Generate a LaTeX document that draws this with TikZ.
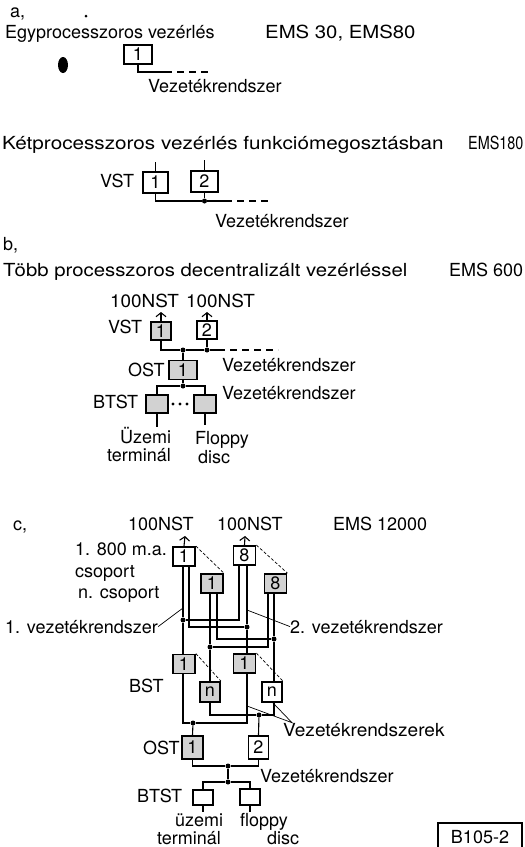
\documentclass[tikz,border=0pt]{standalone}
\usepackage{fontspec}
\usepackage{graphicx}
\setmainfont{TeX Gyre Heros}
\usetikzlibrary{arrows.meta}

% vizszintes nyujtas a szeles betukhoz
\newcommand{\hstr}[2]{\scalebox{#1}[1]{#2}}

\tikzset{
  txt/.style={anchor=base west, inner sep=0pt},
  blk/.style={draw, line width=1.8pt, inner sep=0pt, minimum width=22pt, minimum height=19pt, font=\fontsize{18}{18}\selectfont},
  stip/.style={fill=gray!35},
  wire/.style={line width=1.1pt},
  brk/.style={wire, dash pattern=on 7pt off 5pt},
  jn/.style={circle, fill, inner sep=0pt, minimum size=5pt},
  lead/.style={line width=0.7pt},
  stack/.style={line width=0.7pt, dash pattern=on 3pt off 2pt},
  upar/.style={wire, -{Straight Barb[length=4pt,width=10pt]}}
}

\begin{document}
\begin{tikzpicture}[x=1pt, y=-1pt, font=\fontsize{18}{20}\selectfont]
\useasboundingbox (0,0) rectangle (525,847);

% a, egy processzor
\node[txt] (la) at (10,17) {a,};
\node[txt] (t1) at (5,38) {Egyprocesszoros vezérlés};
\node[txt] (e1) at (265,38) {\hstr{1.13}{EMS 30, EMS80}};
\fill (63,65) ellipse (5 and 8);
\fill (86,16) circle (1.5);
\node[blk, minimum width=28pt] (a1) at (138,54.5) {1};
\coordinate (a1s) at (165,72);
\coordinate (a1e) at (208,72);
\draw[wire] (a1.south) |- (a1s);
\draw[brk] (a1s) -- (a1e);
\node[txt] (v1) at (148,92) {Vezetékrendszer};

% ket processzor, funkciomegosztas
\node[txt] (t2) at (2,149) {\hstr{1.15}{Kétprocesszoros vezérlés funkciómegosztásban}};
\node[txt] (e2) at (468,149) {\hstr{0.8}{EMS180}};
\node[txt] (vst1) at (100,187) {VST};
\node[blk, minimum width=25pt, minimum height=21pt] (k1) at (155.5,182.5) {1};
\node[blk, minimum width=27pt, minimum height=21pt] (k2) at (204.5,181.5) {2};
\coordinate (k1t) at (155.5,162);
\coordinate (k2t) at (204.5,160);
\draw[wire] (k1.north) -- (k1t);
\draw[wire] (k2.north) -- (k2t);
\node[jn] (j1) at (204.5,201) {};
\coordinate (k2s) at (225,201);
\coordinate (k2e) at (268,201);
\draw[wire] (k1.south) |- (j1) -- (k2s);
\draw[wire] (k2.south) -- (j1);
\draw[brk] (k2s) -- (k2e);
\node[txt] (v2) at (215,227) {Vezetékrendszer};

% b, decentralizalt
\node[txt] (lb) at (3,250) {b,};
\node[txt] (t3) at (3,276) {\hstr{1.13}{Több processzoros decentralizált vezérléssel}};
\node[txt] (e3) at (449,276) {EMS 600};
\node[txt] (n1) at (110,307) {\hstr{1.05}{100NST}};
\node[txt] (n2) at (186,307) {\hstr{1.05}{100NST}};
\node[txt] (vst2) at (108,333) {VST};
\node[blk, stip, minimum width=20pt, minimum height=18pt] (vb1) at (161,331) {1};
\node[blk, minimum width=20pt, minimum height=18pt] (vb2) at (207,330) {2};
\coordinate (p1) at (161,312);
\coordinate (p2) at (207,312);
\draw[upar] (vb1.north) -- (p1);
\draw[upar] (vb2.north) -- (p2);
\node[jn] (j2) at (183,350) {};
\node[jn] (j3) at (207,350) {};
\coordinate (b3s) at (218,350);
\coordinate (b3e) at (278,350);
\draw[wire] (vb1.south) |- (j2) -- (j3) -- (b3s);
\draw[wire] (vb2.south) -- (j3);
\draw[brk] (b3s) -- (b3e);
\node[txt] (ost1) at (128,376) {OST};
\node[blk, stip, minimum width=28pt] (ob1) at (183,370) {1};
\draw[wire] (j2) -- (ob1.north);
\node[txt] (v3) at (222,371) {Vezetékrendszer};
\node[txt] (v4) at (222,399) {Vezetékrendszer};
\node[jn] (j4) at (183,386) {};
\draw[wire] (ob1.south) -- (j4);
\node[txt] (btst1) at (93,408) {BTST};
\node[blk, stip, minimum width=22pt, minimum height=18pt] (tb1) at (157,404) {};
\node[blk, stip, minimum width=22pt, minimum height=18pt] (tb2) at (205,404) {};
\draw[wire] (tb1.north) |- (j4) -| (tb2.north);
\foreach \x in {173,180,187}
  \fill (\x,404) circle (1.7);
\node[txt] (uz1) at (120,443) {Üzemi};
\node[txt] (te1) at (107,461) {terminál};
\node[txt] (fl1) at (195,444) {Floppy};
\node[txt] (di1) at (198,463) {disc};
\coordinate (tb1e) at (157,427);
\coordinate (tb2e) at (205,425);
\draw[wire] (tb1.south) -- (tb1e);
\draw[wire] (tb2.south) -- (tb2e);

% c, ket vezetekrendszer
\node[txt] (lc) at (13,530) {c,};
\node[txt] (n3) at (128,530) {100NST};
\node[txt] (n4) at (217,530) {100NST};
\node[txt] (e4) at (333,530) {EMS 12000};
\node[txt] (m1) at (75,555) {1. 800 m.a.};
\node[txt] (cs1) at (75,577) {csoport};
\node[txt] (cs2) at (78,598) {n. csoport};
\node[blk] (g1) at (184,556.5) {1};
\node[blk] (g8) at (244.5,555.5) {8};
\node[blk, stip] (h1) at (212,583.5) {1};
\node[blk, stip] (h8) at (275.5,583.5) {8};
\coordinate (p3) at (185,536);
\coordinate (p4) at (245,536);
\draw[upar] (g1.north) -- (p3);
\draw[upar] (g8.north) -- (p4);
\draw[stack] (g1.north east) -- (h1.north east);
\draw[stack] (g8.north east) -- (h8.north east);

\node[txt] (bst) at (129,692) {BST};
\node[blk, stip] (b1) at (184,664) {1};
\node[blk, stip] (b2) at (244.5,663.5) {1};
\node[blk, stip, minimum width=20pt, minimum height=20pt] (bn1) at (210,692) {n};
\node[blk, minimum width=20pt, minimum height=20pt] (bn2) at (272,692) {n};
\draw[stack] (b1.north east) -- (bn1.north east);
\draw[stack] (b2.north east) -- (bn2.north east);

% vezetekek a csoportok kozott
\node[jn] (jA) at (183,620) {};
\node[jn] (jC) at (247,627) {};
\node[jn] (jD) at (274,639) {};
\node[jn] (jB) at (210,647) {};
\draw[wire] ([xshift=-1pt]g1.south) -- (jA) -- ([xshift=-1pt]b1.north);
\draw[wire] ([xshift=-2pt]h1.south) -- (jB) -- (bn1.north);
\draw[wire] ([xshift=2.5pt]g8.south) -- (jC) -- ([xshift=2.5pt]b2.north);
\draw[wire] ([xshift=-1.5pt]h8.south) -- (jD) -- ([xshift=2pt]bn2.north);
\draw[wire] ([xshift=-5.5pt]g8.south) |- (jA);
\draw[wire] ([xshift=5pt]g1.south) |- (jC);
\draw[wire] ([xshift=5pt]h1.south) |- (jD);
\draw[wire] ([xshift=-7.5pt]h8.south) |- (jB);

\node[txt] (vz1) at (5,633) {1. vezetékrendszer};
\node[txt] (vz2) at (290,633) {2. vezetékrendszer};
\coordinate (q1) at (183,608);
\coordinate (q2) at (247,610);
\draw[lead] (vz1.east) -- (q1);
\draw[lead] (vz2.west) -- (q2);

% OST, BTST
\node[jn] (jE) at (193,723) {};
\node[jn] (jF) at (259,715) {};
\draw[wire] ([xshift=-1pt]b1.south) |- (jE) -| ([xshift=2.5pt]b2.south);
\draw[wire] (bn1.south) |- (jF) -| ([xshift=2pt]bn2.south);
\node[txt] (vzk) at (283,736) {\hstr{1.06}{Vezetékrendszerek}};
\coordinate (q3) at (247,706);
\draw[lead] (q3) -- ([xshift=9pt]vzk.north west) -- ([xshift=1pt]bn2.south);
\node[txt] (ost2) at (143,754) {OST};
\node[blk, stip, minimum width=21pt, minimum height=23pt] (oc1) at (192.5,747.5) {1};
\node[blk, minimum width=20pt, minimum height=23pt] (oc2) at (258.5,747.5) {2};
\draw[wire] (jE) -- (oc1.north);
\draw[wire] (jF) -- (oc2.north);
\node[jn] (jG) at (228,766) {};
\node[jn] (jH) at (228,782) {};
\draw[wire] (oc1.south) |- (jG) -| (oc2.south);
\draw[wire] (jG) -- (jH);
\node[txt] (vz5) at (260,782) {Vezetékrendszer};
\node[txt] (btst2) at (137,802) {BTST};
\node[blk, minimum width=20pt, minimum height=15pt] (bc1) at (203,797.5) {};
\node[blk, minimum width=20pt, minimum height=16pt] (bc2) at (250,797) {};
\draw[wire] (bc1.north) |- (jH) -| (bc2.north);
\node[txt] (uz2) at (175,826) {üzemi};
\node[txt] (te2) at (157,844) {terminál};
\node[txt] (fl2) at (240,826) {floppy};
\node[txt] (di2) at (267,844) {disc};
\coordinate (bc1e) at (203,812);
\coordinate (bc2e) at (250,812);
\draw[wire] (bc1.south) -- (bc1e);
\draw[wire] (bc2.south) -- (bc2e);

\node[draw, line width=1.3pt, minimum width=84pt, minimum height=28pt] (ref) at (480,837) {B105-2};
\end{tikzpicture}
\end{document}
